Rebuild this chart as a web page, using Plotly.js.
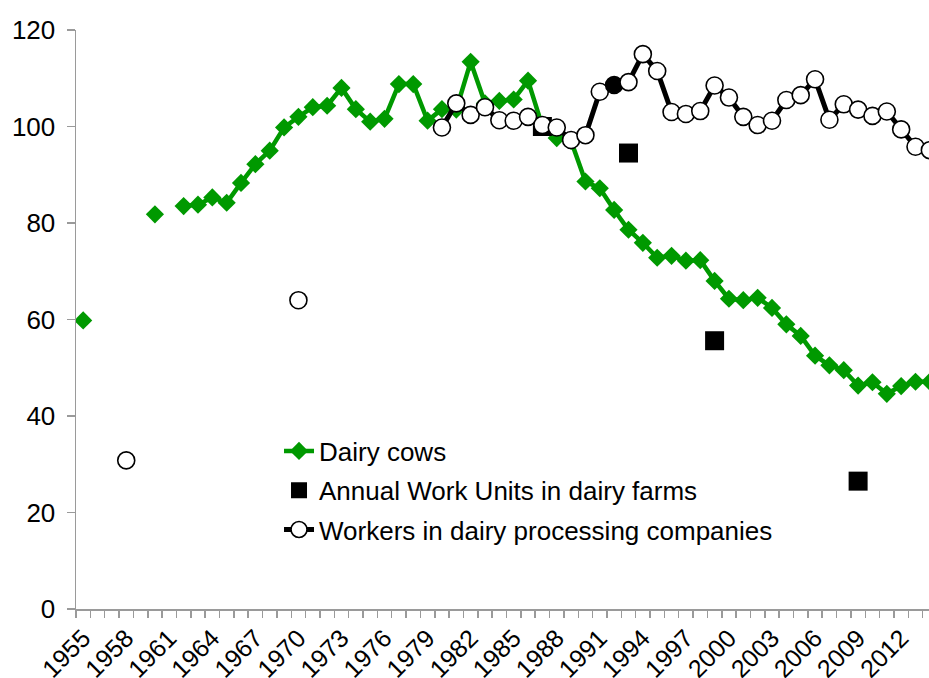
<!DOCTYPE html>
<html>
<head>
<meta charset="utf-8">
<script src="https://cdn.plot.ly/plotly-3.0.1.min.js"></script>
<style>html,body{margin:0;padding:0;background:#fff;}#chart{width:929px;height:678px;}</style>
</head>
<body>
<div id="chart"></div>
<script>
// ---- Data ----
const years = [];
for (let y = 1955; y <= 2014; y++) years.push(y);

const dairyCows = [
  59.8, null, null, null, null, 81.8, null, 83.5, 83.8, 85.3,   // 1955-1964
  84.2, 88.3, 92.2, 95.0, 99.8, 102.0, 104.0, 104.3, 108.0, 103.6, // 1965-1974
  101.0, 101.6, 108.8, 108.8, 101.2, 103.6, 103.5, 113.4, 104.8, 105.3, // 1975-1984
  105.6, 109.5, 100.0, 97.6, 97.0, 88.6, 87.2, 82.7, 78.6, 75.9, // 1985-1994
  72.8, 73.2, 72.2, 72.3, 68.0, 64.3, 64.0, 64.5, 62.4, 59.0,   // 1995-2004
  56.6, 52.5, 50.5, 49.5, 46.3, 47.0, 44.6, 46.2, 47.1, 47.1    // 2005-2014
];

const awuYears = [1987, 1993, 1999, 2009];
const awuValues = [100.0, 94.5, 55.6, 26.5];

const workers = [
  null, null, null, 30.8, null, null, null, null, null, null,   // 1955-1964
  null, null, null, null, null, 64.0, null, null, null, null,   // 1965-1974
  null, null, null, null, null, 99.8, 104.8, 102.4, 104.0, 101.3, // 1975-1984
  101.2, 102.0, 100.3, 99.8, 97.2, 98.2, 107.2, 108.6, 109.2, 115.0, // 1985-1994
  111.5, 103.0, 102.6, 103.2, 108.5, 106.0, 102.0, 100.3, 101.2, 105.5, // 1995-2004
  106.5, 109.8, 101.4, 104.6, 103.5, 102.2, 103.1, 99.4, 95.8, 95.1 // 2005-2014
];

const tickLabelYears = [1955, 1958, 1961, 1964, 1967, 1970, 1973, 1976, 1979, 1982,
                        1985, 1988, 1991, 1994, 1997, 2000, 2003, 2006, 2009, 2012];
const filledWorkerYear = 1992;

// ---- Styling ----
const FONT = 'Arial, Liberation Sans, sans-serif';
const GREEN = '#009900';
const AXIS_GREY = '#9a9a9a';

const boundaries = years.map(y => y - 0.5);
const workerColors = years.map(y => (y === filledWorkerYear ? '#000000' : '#ffffff'));

const traces = [
  {
    x: years, y: dairyCows, name: 'Dairy cows', type: 'scatter', mode: 'lines+markers',
    connectgaps: false, legendgroup: 'a',
    line: {color: GREEN, width: 4.5},
    marker: {symbol: 'diamond', size: 14, color: GREEN}
  },
  {
    x: awuYears, y: awuValues, name: 'Annual Work Units in dairy farms', type: 'scatter', mode: 'markers',
    legendgroup: 'b',
    marker: {symbol: 'square', size: 19, color: '#000000'}
  },
  {
    x: years, y: workers, name: 'Workers in dairy processing companies', type: 'scatter', mode: 'lines+markers',
    connectgaps: false, legendgroup: 'c',
    line: {color: '#000000', width: 5},
    marker: {symbol: 'circle', size: 17, color: workerColors, line: {color: '#000000', width: 1.6}}
  }
];

const layout = {
  width: 929, height: 678,
  margin: {l: 76, r: 0, t: 30, b: 69},
  paper_bgcolor: '#ffffff', plot_bgcolor: '#ffffff',
  font: {family: FONT, size: 26, color: '#000000'},
  showlegend: true,
  legend: {
    x: 0.238, y: 0.3135, xanchor: 'left', yanchor: 'top',
    bgcolor: 'rgba(0,0,0,0)', font: {family: FONT, size: 26, color: '#000000'},
    traceorder: 'grouped', tracegroupgap: 2.5, itemwidth: 30
  },
  xaxis: {
    type: 'linear', range: [1954.5, 2013.94], automargin: false,
    tickmode: 'array', tickvals: tickLabelYears, ticktext: tickLabelYears.map(String),
    tickangle: -45, ticks: '', showgrid: false, zeroline: false, ticklabelstandoff: 3,
    showline: true, linecolor: AXIS_GREY, linewidth: 1.5,
    tickfont: {family: FONT, size: 25, color: '#000000'},
    minor: {tickmode: 'array', tickvals: boundaries, ticks: 'outside', ticklen: 7, tickcolor: AXIS_GREY, tickwidth: 1.5, showgrid: false}
  },
  yaxis: {
    range: [0, 120], tickmode: 'array', tickvals: [0, 20, 40, 60, 80, 100, 120], automargin: false,
    ticks: 'outside', ticklen: 8, tickcolor: AXIS_GREY, tickwidth: 1.5, ticklabelstandoff: 6,
    showgrid: false, zeroline: false,
    showline: true, linecolor: AXIS_GREY, linewidth: 1.5,
    tickfont: {family: FONT, size: 26, color: '#000000'}
  }
};

Plotly.newPlot('chart', traces, layout, {displayModeBar: false, staticPlot: true});
</script>
</body>
</html>
